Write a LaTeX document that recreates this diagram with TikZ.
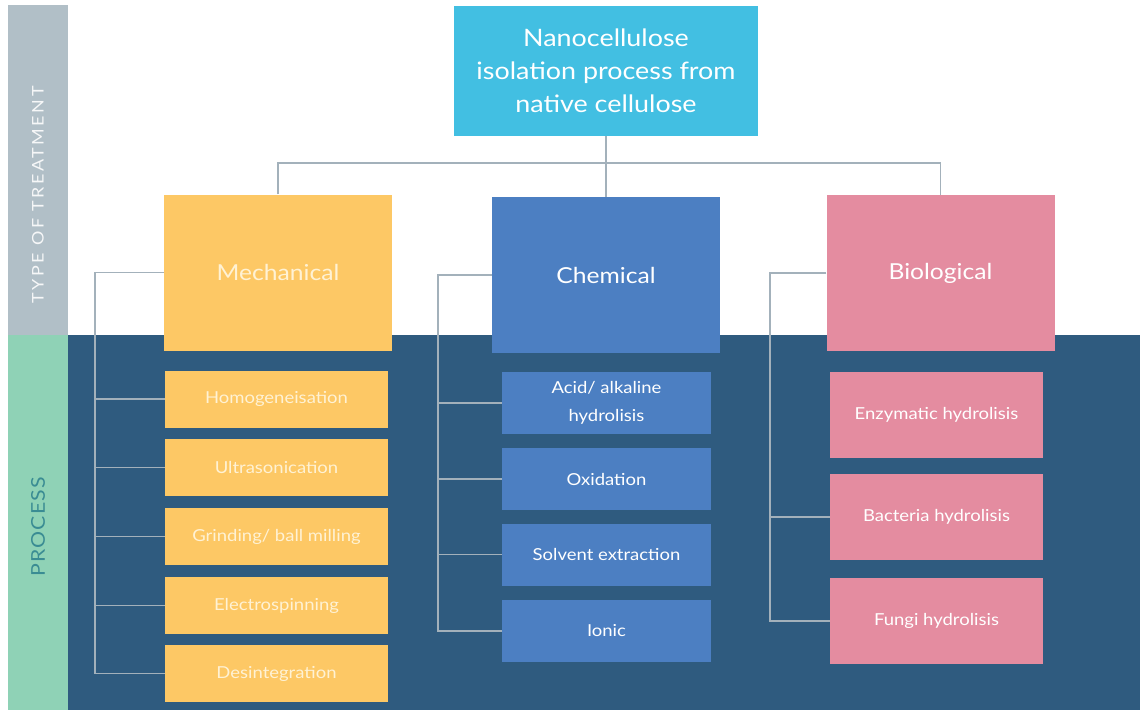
\documentclass[tikz,border=0pt]{standalone}
\usepackage{fontspec}
\setmainfont{Lato}[FakeStretch=1.12]
\definecolor{sidegray}{HTML}{B1BFC7}
\definecolor{sidegreen}{HTML}{8FD2B6}
\definecolor{proctext}{HTML}{3A8C93}
\definecolor{panel}{HTML}{2F5B7F}
\definecolor{topcyan}{HTML}{42BFE2}
\definecolor{mechyellow}{HTML}{FDC865}
\definecolor{chemblue}{HTML}{4C7FC2}
\definecolor{biopink}{HTML}{E48CA0}
\definecolor{linkgray}{HTML}{A3B1BB}
\definecolor{mechtext}{HTML}{FFF2D4}

\tikzset{
  box/.style={inner sep=0pt,align=center,text=white},
  kindbox/.style={box,minimum width=228pt,minimum height=156pt,font=\fontsize{22}{26}\selectfont},
  subbox/.style={box,font=\fontsize{16.5}{28}\selectfont},
  link/.style={draw=linkgray,line width=1.5pt}
}

\begin{document}
\begin{tikzpicture}[x=1pt,y=-1pt]
\useasboundingbox (0,0) rectangle (1140,710);
% side strips and process panel
\fill[sidegray] (8,5) rectangle (68,335);
\fill[sidegreen] (8,335) rectangle (68,710);
\fill[panel] (68,335) rectangle (1140,710);
\node[rotate=90,text=white!88!sidegray,font=\fontsize{16}{16}\selectfont\addfontfeatures{LetterSpace=16}] (treat) at (38,195) {TYPE OF TREATMENT};
\node[rotate=90,text=proctext,font=\fontsize{19}{19}\selectfont\addfontfeatures{LetterSpace=6}] (proc) at (38,527) {PROCESS};

% type of treatment
\node[box,fill=topcyan,minimum width=304pt,minimum height=130pt,font=\fontsize{24}{33}\selectfont] (top) at (606,71) {Nanocellulose\\isolation process from\\native cellulose};
\node[kindbox,fill=mechyellow,text=mechtext] (mech) at (278,272.5) {Mechanical};
\node[kindbox,fill=chemblue] (chem) at (606,275) {Chemical};
\node[kindbox,fill=biopink] (bio) at (940.5,273) {Biological};

% processes
\node[subbox,fill=mechyellow,text=mechtext,minimum width=223pt,minimum height=57pt] (homog) at (276.5,399) {Homogeneisation};
\node[subbox,fill=mechyellow,text=mechtext,minimum width=223pt,minimum height=57pt] (ultra) at (276.5,467.5) {Ultrasonication};
\node[subbox,fill=mechyellow,text=mechtext,minimum width=223pt,minimum height=57pt] (grind) at (276.5,536.5) {Grinding/ ball milling};
\node[subbox,fill=mechyellow,text=mechtext,minimum width=223pt,minimum height=57pt] (electro) at (276.5,605.5) {Electrospinning};
\node[subbox,fill=mechyellow,text=mechtext,minimum width=223pt,minimum height=57pt] (desint) at (276.5,673.5) {Desintegration};

\node[subbox,fill=chemblue,minimum width=209pt,minimum height=62pt] (acid) at (606.5,403) {Acid/ alkaline\\hydrolisis};
\node[subbox,fill=chemblue,minimum width=209pt,minimum height=62pt] (oxid) at (606.5,479) {Oxidation};
\node[subbox,fill=chemblue,minimum width=209pt,minimum height=62pt] (solv) at (606.5,554.5) {Solvent extraction};
\node[subbox,fill=chemblue,minimum width=209pt,minimum height=62pt] (ionic) at (606.5,631) {Ionic};

\node[subbox,fill=biopink,minimum width=213pt,minimum height=86pt] (enzym) at (936.5,415) {Enzymatic hydrolisis};
\node[subbox,fill=biopink,minimum width=213pt,minimum height=86pt] (bact) at (936.5,517) {Bacteria hydrolisis};
\node[subbox,fill=biopink,minimum width=213pt,minimum height=86pt] (fungi) at (936.5,621) {Fungi hydrolisis};

% connectors
\coordinate (bus) at (0,163);
\coordinate (mtrunk) at (95,0);
\coordinate (ctrunk) at (438,0);
\coordinate (btrunk) at (770,0);
\draw[link] (top.south) -- (chem.north);
\draw[link] (mech.north) -- (mech.north |- bus) -| (bio.north);
\draw[link] (mech.west) -| (mtrunk |- desint.west) -- (desint.west);
\foreach \n in {homog,ultra,grind,electro}
  \draw[link] (mtrunk |- \n.west) -- (\n.west);
\draw[link] (chem.west) -| (ctrunk |- ionic.west) -- (ionic.west);
\foreach \n in {acid,oxid,solv}
  \draw[link] (ctrunk |- \n.west) -- (\n.west);
\draw[link] (bio.west) -| (btrunk |- fungi.west) -- (fungi.west);
\draw[link] (btrunk |- bact.west) -- (bact.west);
\end{tikzpicture}
\end{document}
